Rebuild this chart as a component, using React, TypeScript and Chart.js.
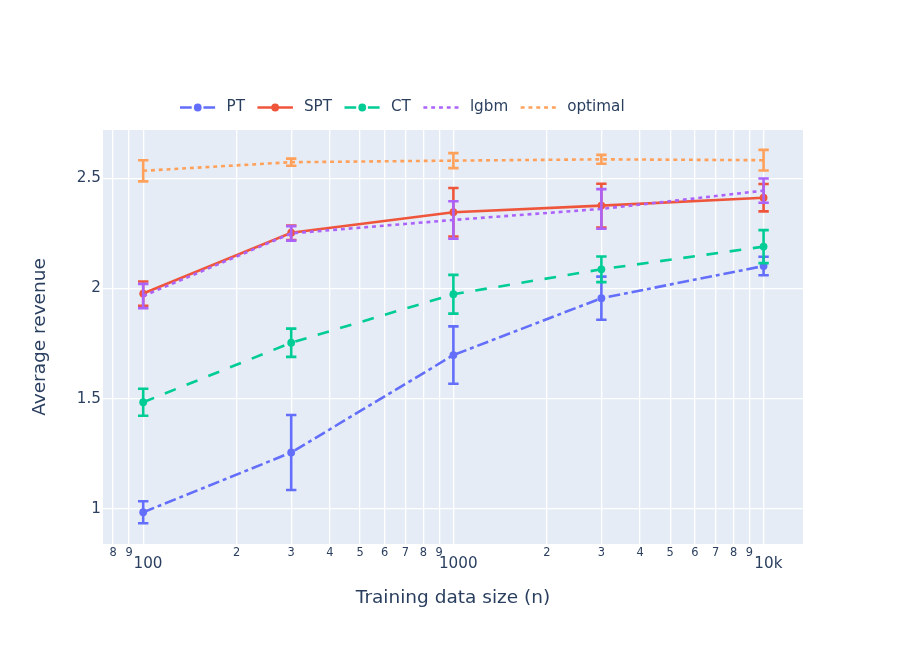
import { useEffect, useRef } from "react";
import { Chart, registerables, type Plugin } from "chart.js";

Chart.register(...registerables);

// training data sizes (x) and the average revenue per method with error half-widths
const sizes = [100, 300, 1000, 3000, 10000];

const ptMean = [0.985, 1.256, 1.698, 1.956, 2.102];
const ptErr = [0.05, 0.17, 0.13, 0.098, 0.042];
const sptMean = [1.977, 2.253, 2.346, 2.376, 2.412];
const sptErr = [0.055, 0.033, 0.11, 0.099, 0.062];
const ctMean = [1.484, 1.754, 1.974, 2.087, 2.19];
const ctErr = [0.061, 0.064, 0.088, 0.058, 0.075];
const lgbmMean = [1.966, 2.25, 2.311, 2.361, 2.444];
const lgbmErr = [0.055, 0.033, 0.085, 0.09, 0.055];
const optimalMean = [2.534, 2.573, 2.58, 2.586, 2.582];
const optimalErr = [0.048, 0.016, 0.034, 0.02, 0.047];

const xTickValues = [
  80, 90, 100, 200, 300, 400, 500, 600, 700, 800, 900, 1000, 2000, 3000, 4000,
  5000, 6000, 7000, 8000, 9000, 10000,
];
const xTickLabels = [
  "8", "9", "100", "2", "3", "4", "5", "6", "7", "8", "9", "1000", "2", "3",
  "4", "5", "6", "7", "8", "9", "10k",
];
const xMajorTicks = [100, 1000, 10000];
const yTickValues = [1, 1.5, 2, 2.5];
const yTickLabels = ["1", "1.5", "2", "2.5"];

const FONT = '"DejaVu Sans", verdana, arial, sans-serif';
const TEXT = "#2a3f5f";

const series = [
  { name: "PT", mean: ptMean, err: ptErr, color: "#636efa", dash: [11.7, 3.9, 3.9, 3.9], marker: true },
  { name: "SPT", mean: sptMean, err: sptErr, color: "#ef553b", dash: [], marker: true },
  { name: "CT", mean: ctMean, err: ctErr, color: "#00cc96", dash: [11.7, 11.7], marker: true },
  { name: "lgbm", mean: lgbmMean, err: lgbmErr, color: "#ab63fa", dash: [3.9, 3.9], marker: false },
  { name: "optimal", mean: optimalMean, err: optimalErr, color: "#ffa15a", dash: [3.9, 3.9], marker: false },
];

const background: Plugin<"line"> = {
  id: "plotBackground",
  beforeDraw(chart) {
    const { ctx, chartArea: a } = chart;
    ctx.save();
    ctx.fillStyle = "#fff";
    ctx.fillRect(0, 0, chart.width, chart.height);
    ctx.fillStyle = "#e5ecf6";
    ctx.fillRect(a.left, a.top, a.right - a.left, a.bottom - a.top);
    ctx.restore();
  },
};

const errorBars: Plugin<"line"> = {
  id: "errorBars",
  afterDatasetDraw(chart, args) {
    const ds = chart.data.datasets[args.index] as any;
    const errs: number[] | undefined = ds.errors;
    if (!errs) return;
    const xs = chart.scales.x;
    const ys = chart.scales.y;
    const ctx = chart.ctx;
    ctx.save();
    ctx.strokeStyle = ds.borderColor;
    ctx.lineWidth = 2.6;
    ctx.setLineDash([]);
    ds.data.forEach((p: { x: number; y: number }, i: number) => {
      const px = xs.getPixelForValue(p.x);
      const top = ys.getPixelForValue(p.y + errs[i]);
      const bot = ys.getPixelForValue(p.y - errs[i]);
      ctx.beginPath();
      ctx.moveTo(px, top);
      ctx.lineTo(px, bot);
      ctx.moveTo(px - 5.2, top);
      ctx.lineTo(px + 5.2, top);
      ctx.moveTo(px - 5.2, bot);
      ctx.lineTo(px + 5.2, bot);
      ctx.stroke();
    });
    ctx.restore();
  },
};

// plotly-style horizontal legend above the plot
const topLegend: Plugin<"line"> = {
  id: "topLegend",
  afterDraw(chart) {
    const ctx = chart.ctx;
    const y = 107.5;
    let x = 180;
    ctx.save();
    ctx.font = `15.2px ${FONT}`;
    ctx.textBaseline = "middle";
    ctx.fillStyle = TEXT;
    series.forEach((s) => {
      ctx.strokeStyle = s.color;
      ctx.lineWidth = 2.6;
      ctx.setLineDash(s.dash);
      ctx.beginPath();
      ctx.moveTo(x, y);
      ctx.lineTo(x + 35.5, y);
      ctx.stroke();
      ctx.setLineDash([]);
      if (s.marker) {
        ctx.fillStyle = s.color;
        ctx.beginPath();
        ctx.arc(x + 17.75, y, 3.9, 0, Math.PI * 2);
        ctx.fill();
      }
      ctx.fillStyle = TEXT;
      const tx = x + 46.5;
      ctx.fillText(s.name, tx, y);
      x = tx + ctx.measureText(s.name).width + 12.5;
    });
    ctx.restore();
  },
};

export default function App() {
  const canvasRef = useRef<HTMLCanvasElement>(null);

  useEffect(() => {
    if (!canvasRef.current) return;
    const chart = new Chart(canvasRef.current, {
      type: "line",
      data: {
        datasets: series.map((s, k) => ({
          label: s.name,
          data: sizes.map((x, i) => ({ x, y: s.mean[i] })),
          errors: s.err,
          borderColor: s.color,
          backgroundColor: s.color,
          borderWidth: 2.6,
          borderDash: s.dash,
          pointRadius: s.marker ? 3.9 : 0,
          pointBorderWidth: 0,
          pointBackgroundColor: s.color,
          tension: 0,
          order: series.length - 1 - k,
        })) as any,
      },
      options: {
        animation: false,
        responsive: true,
        maintainAspectRatio: false,
        layout: { padding: { top: 130, right: 110, left: 0, bottom: 0 } },
        plugins: { legend: { display: false }, tooltip: { enabled: false } },
        scales: {
          x: {
            type: "logarithmic",
            min: 74.2,
            max: 13400,
            afterBuildTicks: (s: any) => {
              s.ticks = xTickValues.map((v) => ({ value: v, major: xMajorTicks.includes(v) }));
            },
            afterFit: (s: any) => {
              s.height = 111;
            },
            grid: { color: "#fff", lineWidth: 1.3, drawTicks: false },
            border: { display: false },
            ticks: {
              autoSkip: false,
              maxRotation: 0,
              padding: 2,
              color: TEXT,
              font: (c: any) =>
                c.tick && c.tick.major
                  ? { family: FONT, size: 15.2, lineHeight: 2.37 }
                  : { family: FONT, size: 11.4, lineHeight: 1.18 },
              callback: (v: any) => {
                const i = xTickValues.indexOf(Number(v));
                const label = xTickLabels[i] ?? "";
                return xMajorTicks.includes(Number(v)) ? "  " + label : label;
              },
            },
            title: {
              display: true,
              text: "Training data size (n)",
              color: TEXT,
              font: { family: FONT, size: 18.5 },
              padding: { top: 0, bottom: 45.5 },
            },
          },
          y: {
            type: "linear",
            min: 0.841,
            max: 2.719,
            afterBuildTicks: (s: any) => {
              s.ticks = yTickValues.map((v) => ({ value: v }));
            },
            afterFit: (s: any) => {
              s.width = 103;
            },
            grid: { color: "#fff", lineWidth: 1.3, drawTicks: false },
            border: { display: false },
            ticks: {
              padding: 2,
              color: TEXT,
              font: { family: FONT, size: 15.2 },
              callback: (v: any) => yTickLabels[yTickValues.indexOf(Number(v))] ?? "",
            },
            title: {
              display: true,
              text: "Average revenue",
              color: TEXT,
              font: { family: FONT, size: 18.5 },
              padding: { top: 29, bottom: 0 },
            },
          },
        },
      },
      plugins: [background, errorBars, topLegend],
    });
    return () => chart.destroy();
  }, []);

  return (
    <div style={{ position: "absolute", left: 0, top: 0, width: 913, height: 655 }}>
      <canvas ref={canvasRef} role="img" aria-label="Average revenue vs training data size" />
    </div>
  );
}
